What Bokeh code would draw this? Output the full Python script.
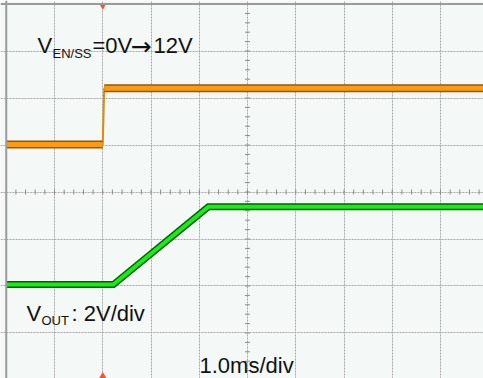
from bokeh.plotting import figure
from bokeh.models import Range1d, Grid, FixedTicker, Span, Label
from bokeh.embed import file_html
from bokeh.resources import INLINE
import numpy as np

# ---- data (units: divisions; 1.0 ms/div horizontally) ----
en_t = [0.0, 2.0, 2.03, 9.9]          # V_EN/SS time points
en_v = [5.01, 5.01, 6.21, 6.21]       # V_EN/SS level (div)
vout_t = [0.0, 2.22, 4.19, 9.9]       # V_OUT time points
vout_v = [2.03, 2.03, 3.685, 3.685]   # V_OUT level (div)
trig_t = [2.0]                        # trigger position
grid_x = [1, 2, 3, 4, 5, 6, 7, 8, 9]
grid_y = [1, 2, 3, 4, 5, 6, 7]
center_x = 5
center_y = 4

FONT = "Liberation Sans"

p = figure(width=483, height=378, output_backend="svg", toolbar_location=None,
           x_range=Range1d(-0.1192, 9.891), y_range=Range1d(0.0319, 8.0745),
           x_axis_type=None, y_axis_type=None, min_border=0,
           background_fill_color="#f4f9f7", border_fill_color="#ffffff",
           outline_line_color=None)

# grid
p.add_layout(Grid(dimension=0, ticker=FixedTicker(ticks=grid_x),
                  grid_line_color="#a8a8a8", grid_line_dash="2 1", grid_line_width=1))
p.add_layout(Grid(dimension=1, ticker=FixedTicker(ticks=grid_y),
                  grid_line_color="#a8a8a8", grid_line_dash="2 1", grid_line_width=1))

# center-line minor ticks
mx = np.arange(0, 10.01, 0.2)
my = np.arange(0, 8.01, 0.2)
p.scatter(mx, [center_y] * len(mx), marker="dash", angle=np.pi / 2, size=5,
          line_color="#8a8a8a", line_width=1)
p.scatter([center_x] * len(my), my, marker="dash", size=5,
          line_color="#8a8a8a", line_width=1)

# border (top and left)
p.add_layout(Span(location=8, dimension="width", line_color="#9a9a9a", line_width=2))
p.add_layout(Span(location=0, dimension="height", line_color="#9a9a9a", line_width=2))

# V_EN/SS trace
p.line(en_t, en_v, line_color="#e08a10", line_width=2)
for a, b in [(0, 2), (2, 4)]:
    p.line(en_t[a:b], en_v[a:b], line_color="#8a5a10", line_width=8)
    p.line(en_t[a:b], en_v[a:b], line_color="#ff9a10", line_width=5)

# V_OUT trace
p.line(vout_t, vout_v, line_color="#0b5a0b", line_width=7, line_join="miter")
p.line(vout_t, vout_v, line_color="#14ee14", line_width=4, line_join="miter")

# trigger markers
p.scatter(trig_t, [7.97], marker="inverted_triangle", size=6,
          fill_color="#ff5020", line_color="#ff5020")
p.scatter(trig_t, [0.08], marker="triangle", size=6,
          fill_color="#ff5020", line_color="#ff5020")

def lab(x, y, t, size, font=FONT):
    p.add_layout(Label(x=x, y=y, x_units="screen", y_units="screen", text=t,
                       text_font=font, text_font_size=f"{size}px", text_color="#111111",
                       text_baseline="alphabetic"))

lab(37, 333, "V", 22)
lab(52, 325, "EN/SS", 13)
lab(92, 333, "=0V", 22)
lab(130, 332, "\u2192", 25, "DejaVu Sans")
lab(153, 333, "12V", 22)

lab(26, 65, "V", 22)
lab(41, 58, "OUT", 13)
lab(71, 65, ": 2V/div", 22)

lab(199, 13, "1.0ms/div", 22)

open("out.html", "w").write(file_html(p, INLINE))
